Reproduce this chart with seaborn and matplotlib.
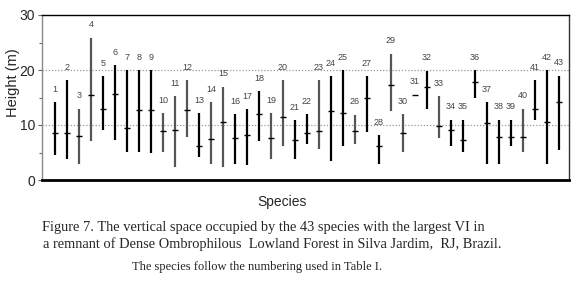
import matplotlib
matplotlib.use("Agg")
import matplotlib.pyplot as plt
import seaborn as sns
import numpy as np
import pandas as pd

species = list(range(1, 44))
h_min = [4.5, 3.9, 2.9, 7.1, 9.1, 7.2, 5.1, 5.1, 5.0, 5.1, 2.4, 7.8, 4.2, 3.0, 2.4, 3.0, 2.8, 7.1, 3.9, 6.2,
         3.9, 6.5, 5.6, 3.5, 6.1, 6.5, 8.8, 2.9, 12.5, 5.1, 15.5, 13.0, 7.6, 6.1, 5.1, 15.0, 3.0, 3.0, 6.1, 5.1,
         11.0, 2.9, 5.5]
h_max = [14.1, 18.1, 13.0, 25.9, 18.9, 20.9, 20.0, 20.0, 20.0, 12.1, 15.2, 18.1, 12.1, 14.2, 17.0, 12.0, 12.9, 16.2, 12.1, 18.2,
         10.9, 12.0, 18.1, 18.9, 20.0, 11.9, 18.9, 8.1, 23.0, 12.0, 15.5, 19.9, 15.2, 11.0, 11.0, 20.0, 14.1, 11.0, 11.0, 13.0,
         18.1, 20.0, 19.0]
h_mean = [8.6, 8.5, 8.0, 15.5, 13.0, 15.6, 9.4, 12.7, 12.8, 8.9, 9.1, 12.8, 6.1, 7.5, 10.5, 7.6, 8.1, 12.0, 7.6, 11.5,
          7.3, 8.6, 8.9, 12.5, 12.1, 8.9, 15.0, 6.1, 17.2, 8.6, 15.5, 17.0, 9.9, 9.1, 7.3, 17.8, 10.3, 7.8, 7.8, 7.9,
          12.9, 10.5, 14.1]
shade = ["k", "k", "g", "g", "k", "k", "k", "k", "k", "g", "g", "g", "k", "g", "g", "k", "k", "k", "g", "g",
         "k", "k", "g", "k", "k", "g", "k", "k", "g", "g", "k", "k", "g", "k", "k", "k", "k", "k", "k", "g",
         "k", "k", "k"]

df = pd.DataFrame({"species": species, "min": h_min, "max": h_max, "mean": h_mean, "shade": shade})

sns.set_theme(style="white")
plt.rcParams["font.family"] = ["Liberation Sans", "DejaVu Sans"]

fig = plt.figure(figsize=(5.73, 2.85), dpi=100)
ax = fig.add_axes([42/573, 105/285, (569-42)/573, 165/285])

cmap = {"k": "#000000", "g": "#555555"}
for ax_h in (10, 20):
    ax.axhline(ax_h, color="#999999", linestyle=(0, (1, 1.5)), linewidth=0.9, zorder=1)

ax.vlines(df["species"], df["min"], df["max"], colors=[cmap[s] for s in df["shade"]], linewidth=1.6, zorder=2)
sns.scatterplot(data=df, x="species", y="mean", marker="_", s=18, color="black", linewidth=1.0, ax=ax, zorder=3,
                legend=False)
for sp, top in zip(df["species"], df["max"]):
    ax.text(sp, top + 1.5, str(sp), ha="center", va="bottom", fontsize=6.5, color="#444444")

ax.set_xlim(-0.08, 43.83)
ax.set_ylim(0, 30)
ax.set_yticks([0, 10, 20, 30])
ax.set_yticks([5, 15, 25], minor=True)
ax.set_xticks([])
ax.tick_params(axis="y", which="major", left=True, length=3, width=0.8, color="#666666", labelsize=10, pad=2)
ax.tick_params(axis="y", which="minor", left=True, length=2, width=0.8, color="#666666")
ax.set_xlabel("")
ax.set_ylabel("")
for name, sp in ax.spines.items():
    sp.set_visible(True)
ax.spines["left"].set_color("#888888")
ax.spines["left"].set_linewidth(1.0)
ax.spines["right"].set_color("#333333")
ax.spines["right"].set_linewidth(1.0)
ax.spines["top"].set_color("black")
ax.spines["top"].set_linewidth(1.0)
ax.spines["bottom"].set_color("black")
ax.spines["bottom"].set_linewidth(2.0)

fig.text(12.7/573, 1 - 83/285, "Height (m)", rotation=90, ha="center", va="center", fontsize=10.5)
fig.text(282/573, 1 - 202/285, "Species", ha="center", va="center", fontsize=10)

serif = ["Liberation Serif", "DejaVu Serif"]
fig.text(42/573, 1 - 227/285, "Figure 7. The vertical space occupied by the 43 species with the largest VI in",
         ha="left", va="center", fontsize=10.4, family=serif)
fig.text(43/573, 1 - 244/285, "a remnant of Dense Ombrophilous  Lowland Forest in Silva Jardim,  RJ, Brazil.",
         ha="left", va="center", fontsize=10.4, family=serif)
fig.text(132/573, 1 - 267/285, "The species follow the numbering used in Table I.",
         ha="left", va="center", fontsize=9, family=serif)

fig.savefig("out.png", dpi=100, facecolor="white")
